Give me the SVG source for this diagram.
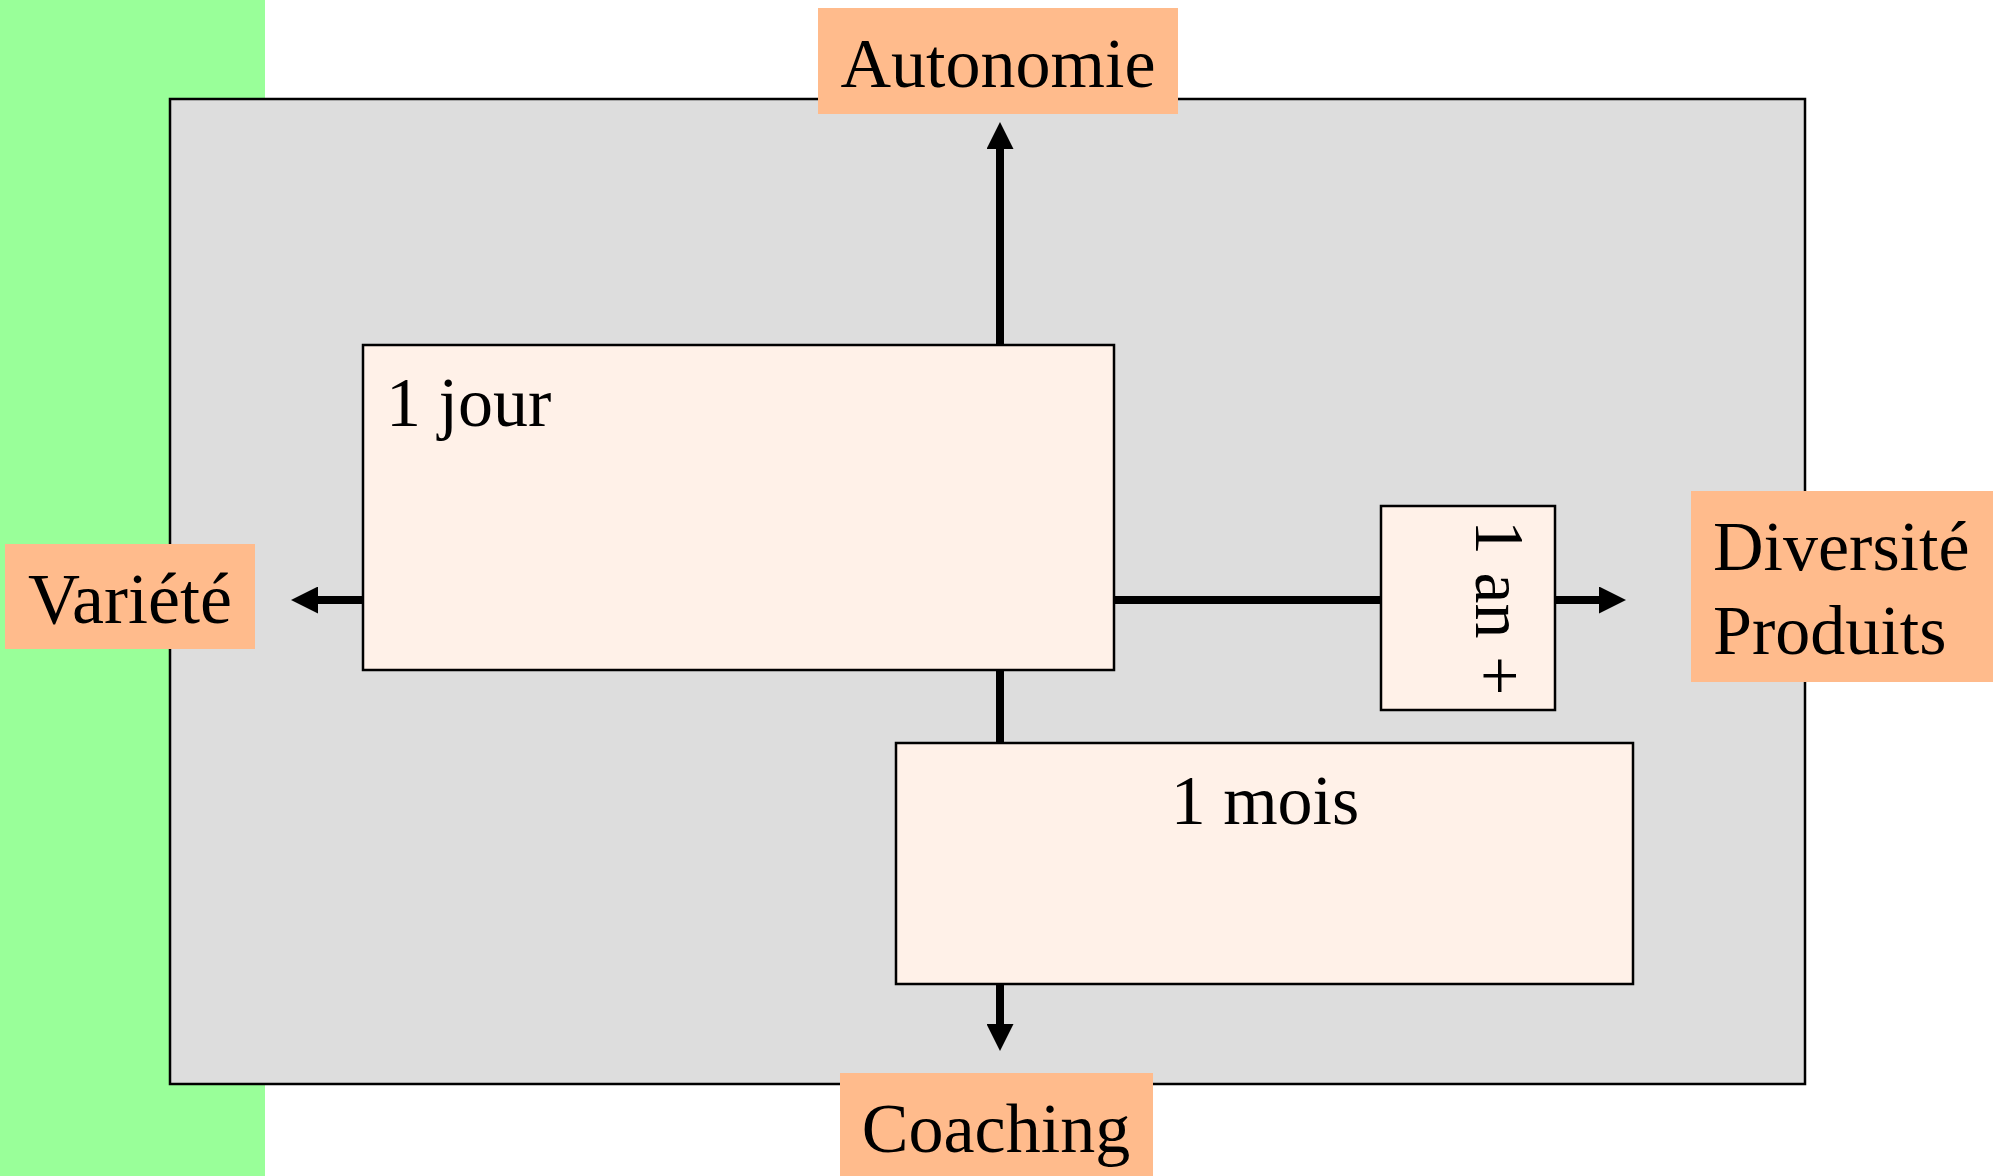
<svg xmlns="http://www.w3.org/2000/svg" width="2000" height="1176" viewBox="0 0 2000 1176">
<defs>
<style>
.t{font-family:"Liberation Serif","Times New Roman",serif;font-size:70px;fill:#000}
.box{fill:#FFF1E8;stroke:#000;stroke-width:2.5}
.lab{fill:#FFBB8C}
.con{stroke:#000;stroke-width:8;fill:none}
</style>
<marker id="ah" viewBox="0 0 27 27" refX="0" refY="13.5" markerWidth="27" markerHeight="27" markerUnits="userSpaceOnUse" orient="auto">
<path d="M0,0 L27,13.5 L0,27 Z" fill="#000"/>
</marker>
</defs>
<rect x="0" y="0" width="265" height="1176" fill="#99FF99"/>
<rect x="170" y="99" width="1635" height="985" fill="#DDDDDD" stroke="#000" stroke-width="2.5"/>
<g id="connectors">
<line class="con" x1="1000" y1="345" x2="1000" y2="149" marker-end="url(#ah)"/>
<line class="con" x1="1000" y1="670" x2="1000" y2="1024" marker-end="url(#ah)"/>
<line class="con" x1="363" y1="600" x2="318" y2="600" marker-end="url(#ah)"/>
<line class="con" x1="1114" y1="600" x2="1599" y2="600" marker-end="url(#ah)"/>
</g>
<g id="jour">
<rect class="box" x="363" y="345" width="751" height="325"/>
<text class="t" x="386" y="426">1 jour</text>
</g>
<g id="mois">
<rect class="box" x="896" y="743" width="737" height="241"/>
<text class="t" x="1265" y="824" text-anchor="middle">1 mois</text>
</g>
<g id="an">
<rect class="box" x="1381" y="506" width="174" height="204"/>
<text class="t" transform="translate(1476,520) rotate(90)">1 an +</text>
</g>
<g id="autonomie">
<rect class="lab" x="818" y="8" width="360" height="106"/>
<text class="t" x="998" y="87" text-anchor="middle">Autonomie</text>
</g>
<g id="variete">
<rect class="lab" x="5" y="544" width="250" height="105"/>
<text class="t" x="130" y="623" text-anchor="middle" style="font-size:72px">Variété</text>
</g>
<g id="diversite">
<rect class="lab" x="1691" y="491" width="302" height="191"/>
<text class="t" x="1713" y="570">Diversité</text>
<text class="t" x="1713" y="654">Produits</text>
</g>
<g id="coaching">
<rect class="lab" x="840" y="1073" width="313" height="103"/>
<text class="t" x="996" y="1152" text-anchor="middle">Coaching</text>
</g>
</svg>
